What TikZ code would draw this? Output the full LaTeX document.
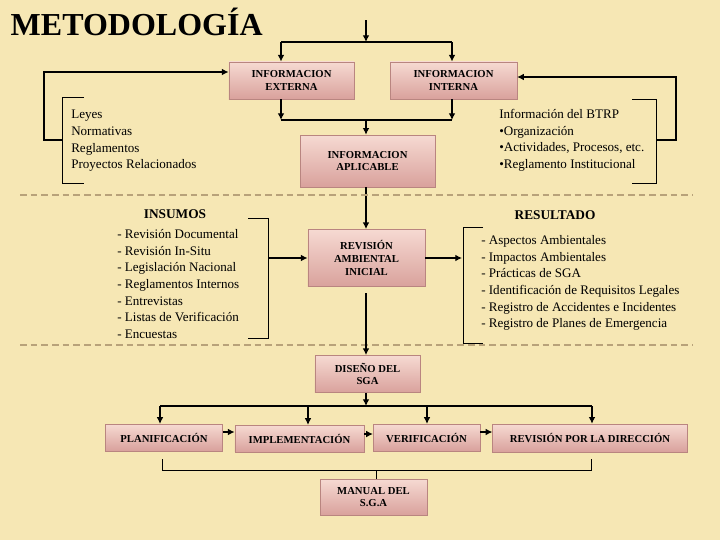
\documentclass[tikz,border=0pt]{standalone}
\usepackage{fontspec}
\setmainfont{Liberation Serif}
\usetikzlibrary{arrows.meta}
\definecolor{bg}{HTML}{F6E7B4}
\definecolor{boxtop}{HTML}{F6DAD2}
\definecolor{boxbot}{HTML}{D9A19C}
\definecolor{boxline}{HTML}{B98580}
\definecolor{dashc}{HTML}{B8A27A}
\tikzset{
  bx/.style={draw=boxline,top color=boxtop,bottom color=boxbot,font=\bfseries\fontsize{8}{9.5}\selectfont,align=center,inner sep=0pt},
  lst/.style={font=\fontsize{9.8}{12.5}\selectfont,align=left,anchor=north west,inner sep=0pt},
  ar/.style={-{Latex[length=5pt,width=5pt]},line width=0.9pt},
  ln/.style={line width=0.9pt},
  thin/.style={line width=0.6pt}
}
\begin{document}
\begin{tikzpicture}[x=0.75pt,y=-0.75pt]
\fill[bg] (0,0) rectangle (720,540);
\useasboundingbox (0,0) rectangle (720,540);
\node[anchor=west,font=\bfseries\fontsize{24}{26}\selectfont] (title) at (6,22) {METODOLOGÍA};
% boxes
\node[bx,minimum width=94pt,minimum height=28pt] (ext) at (291.5,80.5) {INFORMACION\\EXTERNA};
\node[bx,minimum width=95pt,minimum height=28pt] (int) at (453.5,80.5) {INFORMACION\\INTERNA};
\node[bx,minimum width=101pt,minimum height=39pt] (apl) at (367.5,161) {INFORMACION\\APLICABLE};
\node[bx,minimum width=88pt,minimum height=43pt] (rai) at (366.5,258) {REVISIÓN\\AMBIENTAL\\INICIAL};
\node[bx,minimum width=79pt,minimum height=28pt] (dis) at (367.5,374) {DISEÑO DEL\\SGA};
\node[bx,minimum width=88pt,minimum height=20pt] (pla) at (164,437.5) {PLANIFICACIÓN};
\node[bx,minimum width=97pt,minimum height=20pt] (imp) at (299.5,438.5) {IMPLEMENTACIÓN};
\node[bx,minimum width=80pt,minimum height=20pt] (ver) at (426.5,437.5) {VERIFICACIÓN};
\node[bx,minimum width=146pt,minimum height=21pt] (rdi) at (590,438) {REVISIÓN POR LA DIRECCIÓN};
\node[bx,minimum width=80pt,minimum height=27pt] (man) at (373.5,497) {MANUAL DEL\\S.G.A};
% texts
\node[lst] (leyes) at (71,110) {Leyes\\Normativas\\Reglamentos\\Proyectos Relacionados};
\node[lst] (btrp) at (499,109) {Información del BTRP\\\textbullet Organización\\\textbullet Actividades, Procesos, etc.\\\textbullet Reglamento Institucional};
\node[font=\bfseries\fontsize{10}{11}\selectfont] (ins) at (175,214) {INSUMOS};
\node[font=\bfseries\fontsize{10}{11}\selectfont] (res) at (555,215) {RESULTADO};
\node[lst] (insl) at (117,229) {- Revisión Documental\\- Revisión In-Situ\\- Legislación Nacional\\- Reglamentos Internos\\- Entrevistas\\- Listas de Verificación\\- Encuestas};
\node[lst] (resl) at (481,235) {- Aspectos Ambientales\\- Impactos Ambientales\\- Prácticas de SGA\\- Identificación de Requisitos Legales\\- Registro de Accidentes e Incidentes\\- Registro de Planes de Emergencia};
% top arrows
\coordinate (t0) at (366,20);
\coordinate (t1) at (366,42);
\draw[ar] (t0) -- (t1);
\draw[ln] (281,42) -- (452,42);
\draw[ar] (281,42) -- (ext.north -| 281,0);
\draw[ar] (452,42) -- (int.north -| 452,0);
\draw[ar] (ext.south -| 281,0) -- (281,120);
\draw[ar] (int.south -| 452,0) -- (452,120);
\draw[ln] (281,120) -- (452,120);
\draw[ar] (366,120) -- (apl.north -| 366,0);
\draw[ar] (apl.south -| 366,0) -- (rai.north -| 366,0);
% feedback
\draw[ar] (62,140) -- (44,140) -- (44,72) -- (ext.west |- 0,72);
\draw[thin] (84,97) -- (62,97) -- (62,183) -- (84,183);
\draw[ar] (656,140) -- (676,140) -- (676,77) -- (int.east |- 0,77);
\draw[thin] (632,99) -- (656,99) -- (656,183) -- (632,183);
% dashed
\draw[dashc,line width=1.6pt,dash pattern=on 5pt off 3pt] (20,195) -- (693,195);
\draw[dashc,line width=1.6pt,dash pattern=on 5pt off 3pt] (20,345) -- (693,345);
% insumos / resultado
\draw[thin] (248,218) -- (268,218) -- (268,338) -- (248,338);
\draw[ar] (268,258) -- (rai.west);
\draw[thin] (483,227) -- (463,227) -- (463,343) -- (483,343);
\draw[ar] (rai.east) -- (462,258);
\draw[ar] (366,293) -- (dis.north -| 366,0);
% bottom
\draw[ar] (dis.south -| 366,0) -- (366,406);
\draw[ln] (160,406) -- (592,406);
\draw[ar] (160,406) -- (pla.north -| 160,0);
\draw[ar] (308,406) -- (imp.north -| 308,0);
\draw[ar] (427,406) -- (ver.north -| 427,0);
\draw[ar] (592,406) -- (rdi.north -| 592,0);
\draw[ar] (pla.east |- 0,432) -- (imp.west |- 0,432);
\draw[ar] (imp.east |- 0,434) -- (ver.west |- 0,434);
\draw[ar] (ver.east |- 0,432) -- (rdi.west |- 0,432);
\draw[thin] (162,459) -- (162,470) -- (591,470) -- (591,459);
\draw[thin] (376,470) -- (man.north -| 376,0);
\end{tikzpicture}
\end{document}
